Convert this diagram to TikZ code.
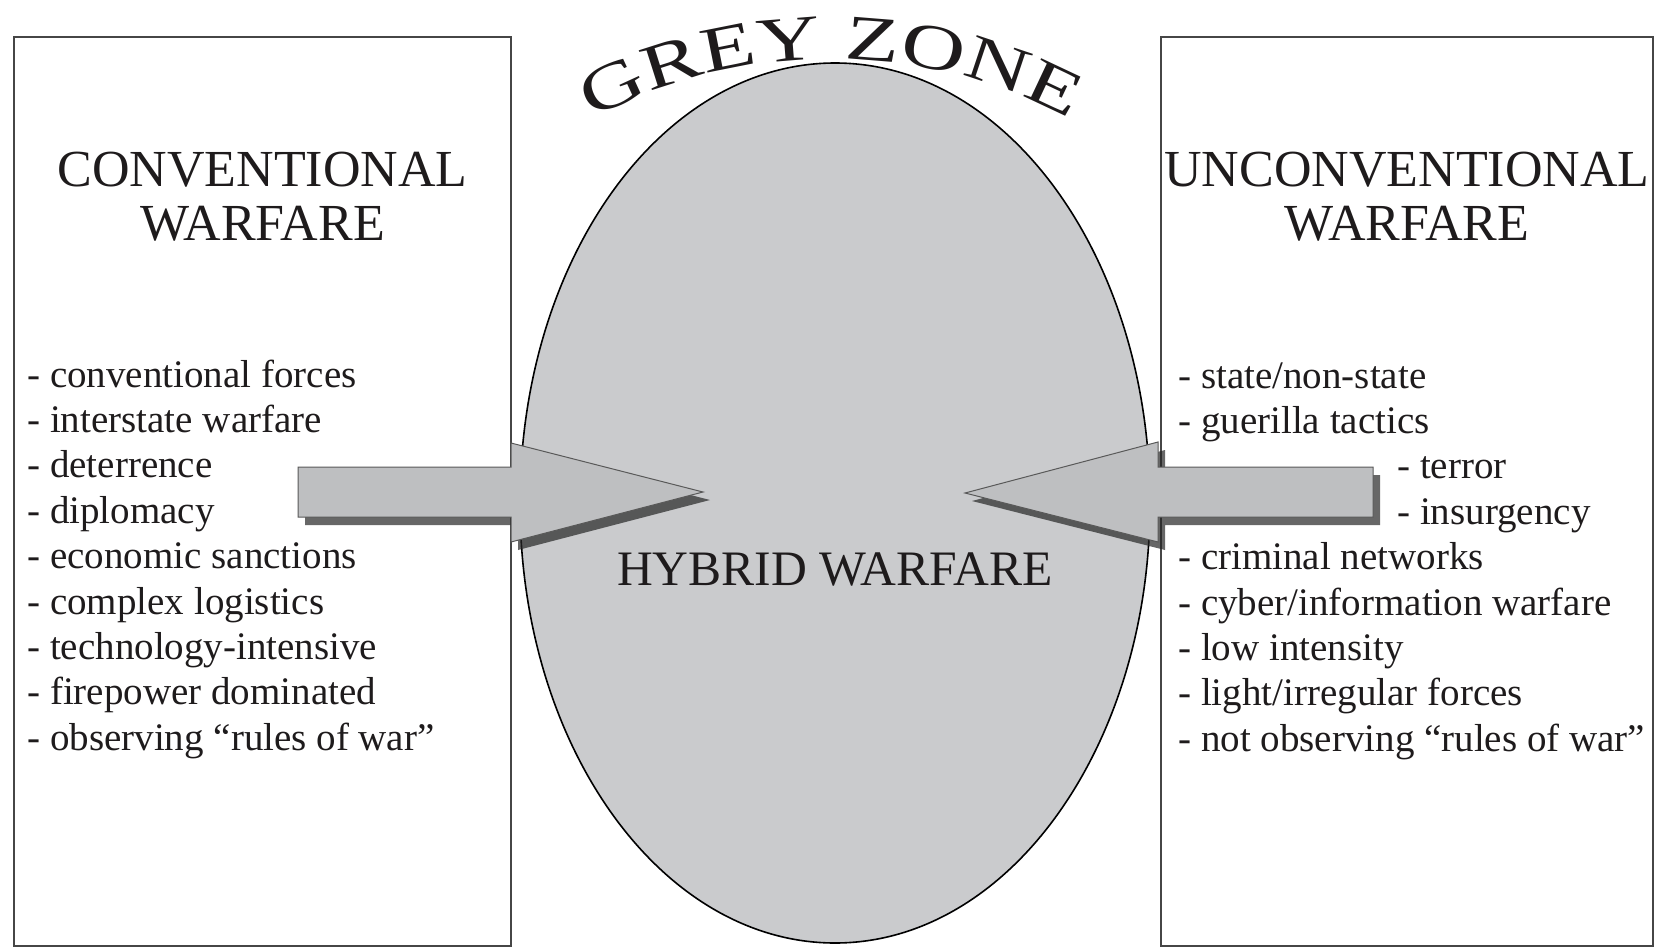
\documentclass[tikz,border=0pt]{standalone}
\usepackage{fontspec}
\setmainfont{Liberation Serif}
\newfontfamily\arcfont[FakeStretch=1.38]{Liberation Serif}
\usepackage{tikz}
\usetikzlibrary{positioning}
\usetikzlibrary{shapes.geometric}
\usetikzlibrary{shadows}
\usetikzlibrary{decorations.text}
\definecolor{inkgrey}{RGB}{30,27,28}
\definecolor{framegrey}{RGB}{70,70,70}
\definecolor{zonegrey}{RGB}{202,203,205}
\definecolor{arrowgrey}{RGB}{190,191,193}
\tikzstyle{every node}+=[inner sep=0pt, text=inkgrey]
\tikzstyle{panel} = [rectangle, draw=framegrey, line width=1.3pt, minimum width=248.5pt, minimum height=454.5pt]
\tikzstyle{zone} = [ellipse, draw=black, fill=zonegrey, line width=0.8pt, minimum width=315pt, minimum height=440pt]
\tikzstyle{heading} = [font=\fontsize{26}{27}\selectfont, align=center]
\tikzstyle{item} = [font=\fontsize{19.5}{22.7}\selectfont, anchor=base west]
\tikzstyle{bigarrow} = [draw=black!65, line width=0.5pt, fill=arrowgrey, drop shadow={shadow xshift=3.5pt, shadow yshift=-4pt, fill=black!85, opacity=0.7}]

\begin{document}
\begin{tikzpicture}[x=0.5pt, y=0.5pt, node distance=22.7pt]
  \useasboundingbox (0,0) rectangle (1655,-948);
  % Place boxes and zone
  \node [panel] (conv) at (262.5,-491.5) {};
  \node [panel, minimum width=246pt] (unconv) at (1407,-491.5) {};
  \node [zone] (grey) at (835,-503) {};
  % Headings
  \node [heading, below=58pt of conv.north] (convhead) {CONVENTIONAL\\WARFARE};
  \node [heading, below=58pt of unconv.north] (unconvhead) {UNCONVENTIONAL\\WARFARE};
  \node [heading, font=\fontsize{24.8}{27}\selectfont, anchor=base] (hybrid) at ([yshift=-41pt]grey.center) {HYBRID WARFARE};
  \path [decorate, decoration={text along path, text align=center,
      text={|\color{inkgrey}\arcfont\fontsize{32}{32}\selectfont|GREY ZONE}}]
    (601.7,-114) arc [start angle=117, end angle=63, radius=505];
  % Conventional list
  \node [item] (c1) at (27,-387) {- conventional forces};
  \node [below=of c1.base west, item] (c2) {- interstate warfare};
  \node [below=of c2.base west, item] (c3) {- deterrence};
  \node [below=of c3.base west, item] (c4) {- diplomacy};
  \node [below=of c4.base west, item] (c5) {- economic sanctions};
  \node [below=of c5.base west, item] (c6) {- complex logistics};
  \node [below=of c6.base west, item] (c7) {- technology-intensive};
  \node [below=of c7.base west, item] (c8) {- firepower dominated};
  \node [below=of c8.base west, item] (c9) {- observing “rules of war”};
  % Unconventional list
  \node [item] (u1) at (1178,-388) {- state/non-state};
  \node [below=of u1.base west, item] (u2) {- guerilla tactics};
  \node [below right=22.7pt and 109.5pt of u2.base west, item] (u3) {- terror};
  \node [below=of u3.base west, item] (u4) {- insurgency};
  \node [below left=22.7pt and 109.5pt of u4.base west, item] (u5) {- criminal networks};
  \node [below=of u5.base west, item] (u6) {- cyber/information warfare};
  \node [below=of u6.base west, item] (u7) {- low intensity};
  \node [below=of u7.base west, item] (u8) {- light/irregular forces};
  \node [below=of u8.base west, item] (u9) {- not observing “rules of war”};
  % Draw arrows
  \draw [bigarrow] (298,-467) -- (511,-467) -- (511,-443) -- (703,-492) -- (511,-542) -- (511,-517) -- (298,-517) -- cycle;
  \draw [bigarrow] (1373,-467) -- (1158,-467) -- (1158,-442) -- (965,-493) -- (1158,-542) -- (1158,-517) -- (1373,-517) -- cycle;
\end{tikzpicture}
\end{document}
